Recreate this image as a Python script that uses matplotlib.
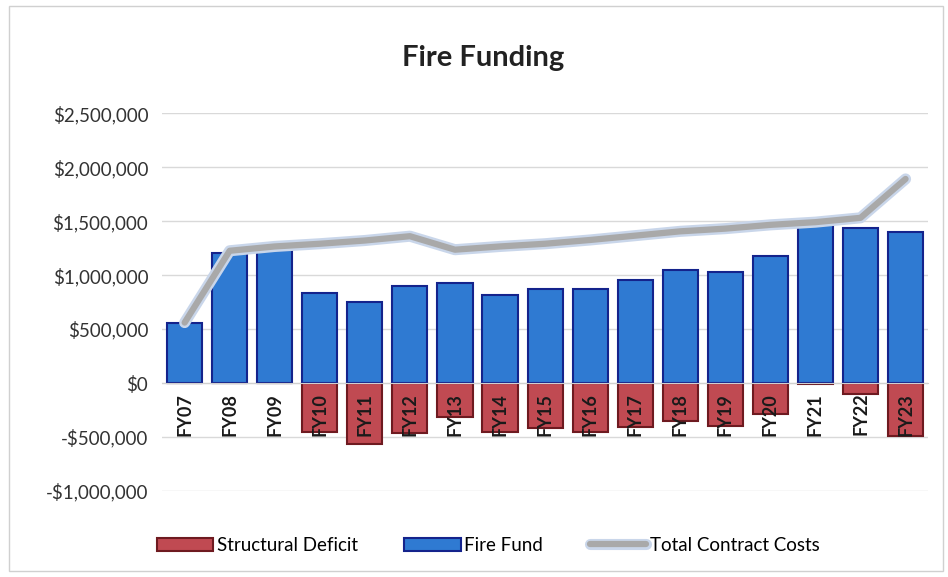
import numpy as np
import matplotlib.pyplot as plt
import matplotlib.patheffects as pe
import matplotlib.transforms as mtransforms
from matplotlib.ticker import FuncFormatter

years = ["FY07", "FY08", "FY09", "FY10", "FY11", "FY12", "FY13", "FY14", "FY15",
         "FY16", "FY17", "FY18", "FY19", "FY20", "FY21", "FY22", "FY23"]
fire_fund = [560000, 1200000, 1235000, 830000, 755000, 895000, 930000, 815000, 870000,
             870000, 955000, 1050000, 1030000, 1175000, 1480000, 1440000, 1400000]
deficit = [0, 0, 0, -455000, -565000, -465000, -313000, -455000, -420000,
           -455000, -410000, -355000, -400000, -290000, -10000, -100000, -495000]
total_costs = [560000, 1225000, 1265000, 1290000, 1320000, 1360000, 1235000, 1265000, 1290000,
               1325000, 1365000, 1405000, 1430000, 1465000, 1490000, 1530000, 1890000]

plt.rcParams['font.family'] = ['Lato', 'DejaVu Sans']

fig = plt.figure(figsize=(9.48, 5.77), dpi=100)
ax = fig.add_axes([0.171, 0.149, 0.808, 0.655])

x = np.arange(len(years))
ax.bar(x, deficit, width=0.78, color='#c04a52', edgecolor='#6e1a20', linewidth=1.5,
       label='Structural Deficit', zorder=2)
ax.bar(x, fire_fund, width=0.78, color='#2f7ad2', edgecolor='#14238c', linewidth=1.5,
       label='Fire Fund', zorder=2)
ax.plot(x, total_costs, color='#a9a9a9', linewidth=4.5, zorder=3,
        label='Total Contract Costs', solid_capstyle='round',
        path_effects=[pe.Stroke(linewidth=8, foreground='#c9d6ea'), pe.Normal()])

ax.set_xlim(-0.5, len(years) - 0.5)
ax.set_ylim(-1000000, 2500000)
ax.set_yticks(np.arange(-1000000, 2500001, 500000))
ax.yaxis.set_major_formatter(FuncFormatter(
    lambda v, p: ('-$' if v < 0 else '$') + f"{abs(int(v)):,}"))
ax.grid(axis='y', color='#d9d9d9', linewidth=1, zorder=0)
ax.set_axisbelow(True)

ax.spines['bottom'].set_position(('data', 0))
ax.spines['bottom'].set_color('#d0d0d0')
for s in ['top', 'right', 'left']:
    ax.spines[s].set_visible(False)
ax.set_xticks([])
ax.tick_params(axis='both', length=0)
ax.tick_params(axis='y', labelsize=13.5, colors='#333333', pad=10)

# category labels sit just under the zero line, over the bars
lab_tr = mtransforms.offset_copy(ax.transData, fig=fig, y=-7, units='points')
for xi, yr in zip(x, years):
    ax.text(xi, 0, yr, transform=lab_tr, rotation=90, ha='center', va='top',
            fontsize=13, fontweight='bold', color='#1a1a1a', zorder=5)

fig.text(0.51, 0.9, "Fire Funding", ha='center', va='center', fontsize=21,
         fontweight='bold', color='#222222')

handles, labels = ax.get_legend_handles_labels()
order = [1, 2, 0]
fig.legend([handles[i] for i in order], [labels[i] for i in order],
           loc='center', bbox_to_anchor=(0.515, 0.055), ncol=3, frameon=False,
           fontsize=13.5, handlelength=3, columnspacing=2.5, handletextpad=0.2)

border = plt.Rectangle((0.01, 0.01), 0.985, 0.98, transform=fig.transFigure,
                       fill=False, edgecolor='#d0d0d0', linewidth=1)
fig.patches.append(border)

fig.savefig("out.png", dpi=100)
